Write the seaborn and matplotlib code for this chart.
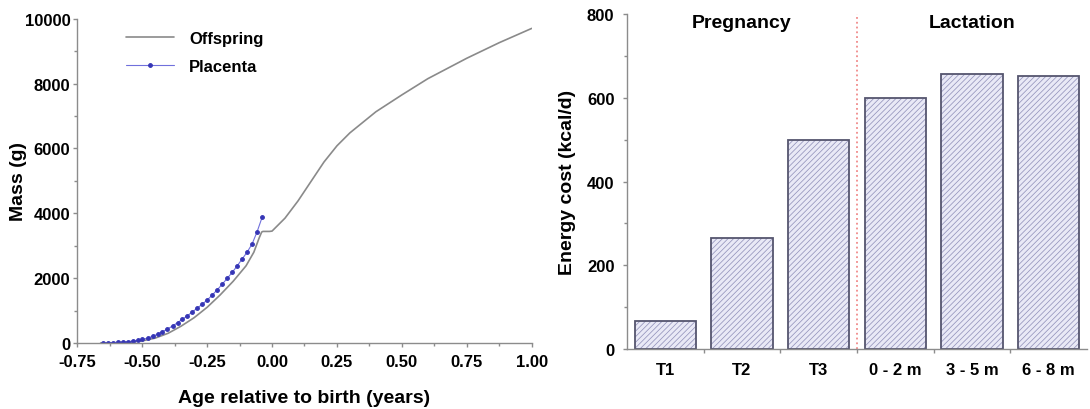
import matplotlib
matplotlib.use("Agg")
import matplotlib.pyplot as plt
import seaborn as sns
import pandas as pd
from matplotlib.ticker import MultipleLocator, FixedLocator

sns.set_style("ticks")
plt.rcParams["font.family"] = ["Liberation Sans", "DejaVu Sans"]
plt.rcParams["font.weight"] = "bold"
plt.rcParams["axes.labelweight"] = "bold"
plt.rcParams["text.color"] = "black"
plt.rcParams["axes.labelcolor"] = "black"
plt.rcParams["xtick.labelcolor"] = "black"
plt.rcParams["ytick.labelcolor"] = "black"
plt.rcParams["hatch.linewidth"] = 0.55

# left panel: offspring mass around birth
off_age = [-0.66, -0.60, -0.55, -0.50, -0.45, -0.40, -0.35, -0.30, -0.25, -0.20,
           -0.15, -0.10, -0.07, -0.05, -0.04, -0.035, -0.01, 0.00, 0.05, 0.10,
           0.15, 0.20, 0.25, 0.30, 0.40, 0.50, 0.60, 0.75, 0.875, 1.00]
off_mass = [0, 6, 25, 65, 150, 300, 520, 780, 1100, 1480,
            1900, 2380, 2800, 3230, 3420, 3440, 3440, 3450, 3850, 4380,
            4980, 5580, 6080, 6480, 7130, 7650, 8150, 8780, 9260, 9700]

# placenta series (weekly points)
plac_age = [-0.652, -0.633, -0.614, -0.594, -0.575, -0.556, -0.537, -0.518,
            -0.499, -0.479, -0.460, -0.441, -0.422, -0.403,
            -0.383, -0.364, -0.345, -0.326, -0.307, -0.288,
            -0.268, -0.249, -0.230, -0.211, -0.192, -0.173,
            -0.153, -0.134, -0.115, -0.096, -0.077, -0.058, -0.038]
plac_mass = [0, 5, 12, 20, 30, 42, 58, 80,
             110, 150, 205, 270, 345, 430,
             525, 625, 730, 840, 955, 1075,
             1200, 1330, 1480, 1640, 1810, 1990,
             2180, 2380, 2590, 2800, 3050, 3420, 3880]

# right panel: energy cost
periods = ["T1", "T2", "T3", "0 - 2 m", "3 - 5 m", "6 - 8 m"]
energy_cost = [68, 265, 500, 600, 656, 652]

spine_col = "#8c8c8c"

fig = plt.figure(figsize=(10.9, 4.1), dpi=100)
ax1 = fig.add_axes([0.0709, 0.161, 0.4169, 0.791])
ax2 = fig.add_axes([0.5752, 0.1463, 0.422, 0.8167])

off_df = pd.DataFrame({"age": off_age, "mass": off_mass})
plac_df = pd.DataFrame({"age": plac_age, "mass": plac_mass})

sns.lineplot(data=off_df, x="age", y="mass", ax=ax1, color="#8a8a8a",
             linewidth=1.2, sort=False, estimator=None, label="Offspring")
sns.lineplot(data=plac_df, x="age", y="mass", ax=ax1, color="#7070dc",
             linewidth=0.8, marker="o", markersize=2.7, markerfacecolor="#3535b5",
             markeredgecolor="#3535b5", sort=False, estimator=None, label="Placenta")

ax1.set_xlim(-0.75, 1.0)
ax1.set_ylim(0, 10000)
ax1.xaxis.set_major_locator(MultipleLocator(0.25))
ax1.xaxis.set_minor_locator(MultipleLocator(0.125))
ax1.yaxis.set_major_locator(MultipleLocator(2000))
ax1.yaxis.set_minor_locator(MultipleLocator(1000))
ax1.set_xticks(ax1.get_xticks())
ax1.set_xticklabels([f"{v:.2f}" for v in ax1.get_xticks()])
ax1.set_xlim(-0.75, 1.0)
ax1.set_xlabel("Age relative to birth (years)", fontsize=14, labelpad=14)
ax1.set_ylabel("Mass (g)", fontsize=14, labelpad=-2)

leg = ax1.legend(loc="upper left", bbox_to_anchor=(0.107, 0.962), frameon=False,
                 borderaxespad=0, borderpad=0, handlelength=2.9, handletextpad=0.9,
                 labelspacing=0.75, prop={"size": 12, "weight": "bold"})

# right panel bars: hatched fill, then dark outline
sns.barplot(x=periods, y=energy_cost, ax=ax2, color="#e9e9f6", edgecolor="#9494bc",
            linewidth=0, width=0.8, hatch="//////", saturation=1)
sns.barplot(x=periods, y=energy_cost, ax=ax2, fill=False, color="#55556e",
            linewidth=1.3, width=0.8)

ax2.axvline(2.5, color="#f08a8a", linestyle=":", linewidth=1.3)
ax2.text(1.0, 780, "Pregnancy", ha="center", va="center", fontsize=14, fontweight="bold")
ax2.text(4.0, 780, "Lactation", ha="center", va="center", fontsize=14, fontweight="bold")

ax2.set_xlim(-0.5, 5.5)
ax2.set_ylim(0, 800)
ax2.yaxis.set_major_locator(MultipleLocator(200))
ax2.yaxis.set_minor_locator(MultipleLocator(100))
ax2.xaxis.set_minor_locator(FixedLocator([0.5, 1.5, 2.5, 3.5, 4.5]))
ax2.set_ylabel("Energy cost (kcal/d)", fontsize=14, labelpad=8)
ax2.set_xlabel("")

for ax in (ax1, ax2):
    sns.despine(ax=ax)
    for s in ("left", "bottom"):
        ax.spines[s].set_color(spine_col)
        ax.spines[s].set_linewidth(1.0)
    ax.tick_params(which="both", direction="out", color=spine_col, width=1.0,
                   labelcolor="black")
    ax.tick_params(which="major", length=3, labelsize=12)
    ax.tick_params(which="minor", length=2)
    for lab in ax.get_xticklabels() + ax.get_yticklabels():
        lab.set_fontweight("bold")

ax1.tick_params(axis="x", which="major", pad=5)
ax1.tick_params(axis="y", which="major", pad=2)
ax2.tick_params(axis="x", which="major", length=0, pad=9)
ax2.tick_params(axis="x", which="minor", length=3)
ax2.tick_params(axis="y", which="major", pad=6)

fig.savefig("out.png", dpi=100)
plt.close(fig)
